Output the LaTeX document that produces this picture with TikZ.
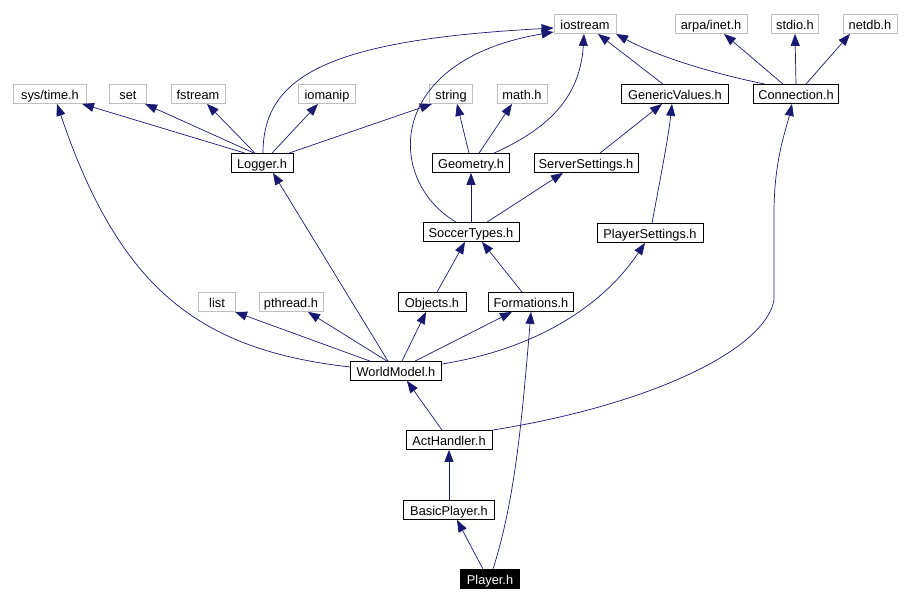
\documentclass[tikz,border=0pt]{standalone}
\usepackage{fontspec}
\setmainfont{Liberation Sans}
\usetikzlibrary{arrows.meta}
\definecolor{edgeblue}{HTML}{191970}
\definecolor{boxgray}{HTML}{BFBFBF}
\begin{document}
\begin{tikzpicture}[x=1pt,y=-1pt,
  filebox/.style={draw=black, line width=0.8pt, minimum height=19pt, inner sep=0pt, text height=11pt, text depth=0pt, font=\fontsize{12.8}{14}\selectfont},
  sysbox/.style={filebox, draw=boxgray},
  rootbox/.style={filebox, fill=black, text=white},
  edge/.style={draw=edgeblue, line width=0.7pt, -{Triangle[length=12pt,width=9pt]}}]
\useasboundingbox (0,0) rectangle (910,603);
% row 1
\node[sysbox, minimum width=62pt] (iostream) at (585,24) {iostream};
\node[sysbox, minimum width=72pt] (arpa) at (711,24) {arpa/inet.h};
\node[sysbox, minimum width=47pt] (stdio) at (795,24) {stdio.h};
\node[sysbox, minimum width=54pt] (netdb) at (870,24) {netdb.h};
% row 2
\node[sysbox, minimum width=73pt] (systime) at (50,94) {sys/time.h};
\node[sysbox, minimum width=37pt] (set) at (128,94) {set};
\node[sysbox, minimum width=54pt] (fstream) at (198,94) {fstream};
\node[sysbox, minimum width=57pt] (iomanip) at (327,94) {iomanip};
\node[sysbox, minimum width=43pt] (string) at (451,94) {string};
\node[sysbox, minimum width=50pt] (math) at (522,94) {math.h};
\node[filebox, minimum width=107pt] (generic) at (675,94) {GenericValues.h};
\node[filebox, minimum width=85pt] (conn) at (796,94) {Connection.h};
% row 3
\node[filebox, minimum width=62pt] (logger) at (262,163) {Logger.h};
\node[filebox, minimum width=77pt] (geometry) at (471,163) {Geometry.h};
\node[filebox, minimum width=104pt] (server) at (586,163) {ServerSettings.h};
% row 4
\node[filebox, minimum width=96pt] (soccer) at (471,232) {SoccerTypes.h};
\node[filebox, minimum width=106pt] (plsettings) at (650,233) {PlayerSettings.h};
% row 5
\node[sysbox, minimum width=37pt] (list) at (217,302) {list};
\node[sysbox, minimum width=64pt] (pthread) at (291,302) {pthread.h};
\node[filebox, minimum width=68pt] (objects) at (432,302) {Objects.h};
\node[filebox, minimum width=85pt] (formations) at (531,302) {Formations.h};
% lower rows
\node[filebox, minimum width=91pt] (world) at (396,371) {WorldModel.h};
\node[filebox, minimum width=86pt] (act) at (449,440) {ActHandler.h};
\node[filebox, minimum width=91pt] (basic) at (449,510) {BasicPlayer.h};
\node[rootbox, minimum width=59pt] (player) at (490,579) {Player.h};

% Logger
\draw[edge] ([xshift=1pt]logger.north) .. controls (263,75) and (330,40) .. ([yshift=-4pt]iostream.west);
\draw[edge] ([xshift=-17pt]logger.north) -- ([xshift=32pt]systime.south);
\draw[edge] ([xshift=-8pt]logger.north) -- ([xshift=17pt]set.south);
\draw[edge] ([xshift=-7pt]logger.north) -- ([xshift=9pt]fstream.south);
\draw[edge] ([xshift=10pt]logger.north) -- ([xshift=-9pt]iomanip.south);
\draw[edge] ([xshift=27pt]logger.north) -- ([xshift=-19pt]string.south);
% Geometry
\draw[edge] ([xshift=-2pt]geometry.north) -- ([xshift=6pt]string.south);
\draw[edge] ([xshift=8pt]geometry.north) -- ([xshift=-10pt]math.south);
\draw[edge] ([xshift=23pt]geometry.north) .. controls (545,130) and (580,100) .. ([xshift=-1pt]iostream.south);
% SoccerTypes
\draw[edge] (soccer.north) -- (geometry.south);
\draw[edge] ([xshift=16pt]soccer.north) -- ([xshift=-23pt]server.south);
\draw[edge] ([xshift=-15pt]soccer.north) .. controls (385,180) and (385,60) .. ([yshift=-8pt]iostream.west);
% ServerSettings, GenericValues
\draw[edge] ([xshift=14pt]server.north) -- ([xshift=-13pt]generic.south);
\draw[edge] ([xshift=-12pt]generic.north) -- ([xshift=13pt]iostream.south);
% Connection
\draw[edge] ([xshift=-31pt]conn.north) .. controls (720,75) and (660,58) .. ([xshift=31pt]iostream.south);
\draw[edge] ([xshift=-13pt]conn.north) -- ([xshift=13pt]arpa.south);
\draw[edge] (conn.north) -- (stdio.south);
\draw[edge] ([xshift=10pt]conn.north) -- ([xshift=-20pt]netdb.south);
% PlayerSettings
\draw[edge] ([xshift=2pt]plsettings.north) .. controls (660,180) and (668,140) .. ([xshift=-3pt]generic.south);
% Objects, Formations
\draw[edge] ([xshift=5pt]objects.north) -- ([xshift=-6pt]soccer.south);
\draw[edge] ([xshift=-9pt]formations.north) -- ([xshift=11pt]soccer.south);
% WorldModel
\draw[edge] ([xshift=-26pt]world.north) -- ([xshift=18pt]list.south);
\draw[edge] ([xshift=-9pt]world.north) -- ([xshift=17pt]pthread.south);
\draw[edge] ([xshift=-8pt]world.north) -- ([xshift=11pt]logger.south);
\draw[edge] ([xshift=6pt]world.north) -- ([xshift=-6pt]objects.south);
\draw[edge] ([xshift=19pt]world.north) -- ([xshift=-19pt]formations.south);
\draw[edge] ([yshift=7pt]world.east) .. controls (530,350) and (600,310) .. ([xshift=-5pt]plsettings.south);
\draw[edge] ([yshift=4pt]world.west) .. controls (200,350) and (120,290) .. ([xshift=7pt]systime.south);
% ActHandler
\draw[edge] ([xshift=-7pt]act.north) -- ([xshift=11pt]world.south);
\draw[edge] (act.north east) .. controls (650,405) and (765,350) .. (774,300) -- (774,213) .. controls (774,160) and (786,130) .. ([xshift=-4pt]conn.south);
% BasicPlayer, Player
\draw[edge] (basic.north) -- (act.south);
\draw[edge] ([xshift=-7pt]player.north) -- ([xshift=8pt]basic.south);
\draw[edge] ([xshift=3pt]player.north) .. controls (515,500) and (522,420) .. (formations.south);
\end{tikzpicture}
\end{document}
